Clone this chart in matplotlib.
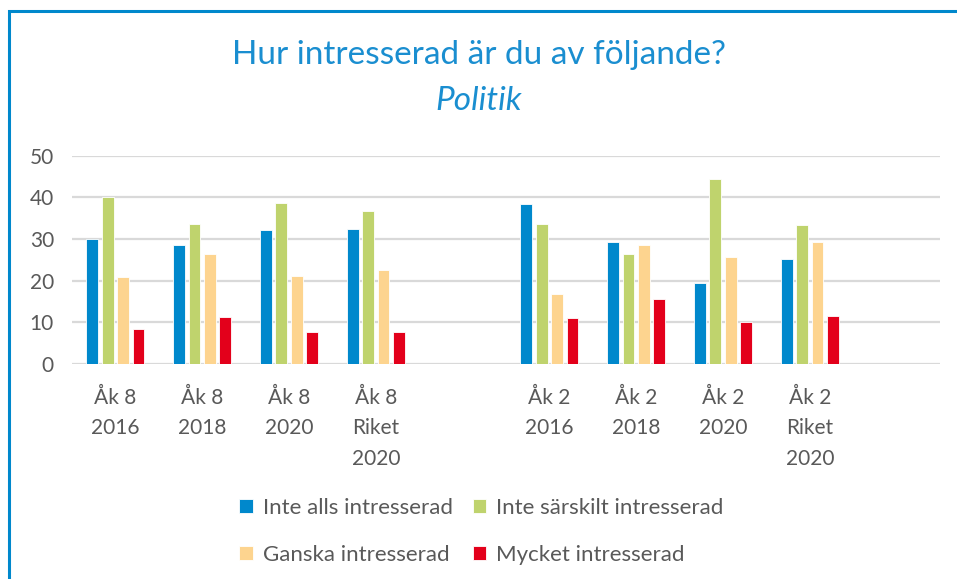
import matplotlib.pyplot as plt
import numpy as np
from matplotlib.patches import Rectangle

# chart data
categories = ["Åk 8\n2016", "Åk 8\n2018", "Åk 8\n2020", "Åk 8\nRiket\n2020", "",
              "Åk 2\n2016", "Åk 2\n2018", "Åk 2\n2020", "Åk 2\nRiket\n2020", ""]
series_names = ["Inte alls intresserad", "Inte särskilt intresserad",
                "Ganska intresserad", "Mycket intresserad"]
inte_alls = [30.0, 28.5, 32.2, 32.5, np.nan, 38.3, 29.4, 19.5, 25.1, np.nan]
inte_sarskilt = [40.1, 33.7, 38.6, 36.7, np.nan, 33.7, 26.3, 44.4, 33.4, np.nan]
ganska = [21.0, 26.3, 21.1, 22.6, np.nan, 16.7, 28.5, 25.7, 29.4, np.nan]
mycket = [8.5, 11.2, 7.8, 7.8, np.nan, 11.0, 15.5, 10.0, 11.5, np.nan]

colors = ["#0088CC", "#BFD36D", "#FDD48F", "#E3001B"]
text_gray = "#595959"
title_blue = "#1A8ED0"

plt.rcParams["font.family"] = ["Lato", "DejaVu Sans"]

fig = plt.figure(figsize=(9.57, 5.79), dpi=100)
ax = fig.add_axes([0.0752, 0.3713, 0.9070, 0.3598])

# outer blue frame
fig.patches.append(Rectangle((0.0094, -0.05), 1.1, 1.031, transform=fig.transFigure,
                             fill=False, edgecolor="#0088CC", linewidth=2.2))

x = np.arange(len(categories))
pitch = 0.177
width = 0.135
all_series = [inte_alls, inte_sarskilt, ganska, mycket]
handles = []
for i, vals in enumerate(all_series):
    h = ax.bar(x + (i - 1.5) * pitch, vals, width, color=colors[i],
               edgecolor="white", linewidth=0.6, label=series_names[i], zorder=3)
    handles.append(h)

ax.set_xlim(-0.5, len(categories) - 0.5)
ax.set_ylim(0, 50)
ax.set_yticks(range(0, 51, 10))
ax.grid(axis="y", color="#D9D9D9", linewidth=1.6, zorder=0)
ax.set_axisbelow(True)
for s in ax.spines.values():
    s.set_visible(False)

ax.set_xticks(x)
ax.set_xticklabels(categories, linespacing=1.65, va="top")
ax.tick_params(axis="both", length=0, labelsize=15, labelcolor=text_gray)
ax.tick_params(axis="y", pad=13)
ax.tick_params(axis="x", pad=17)

fig.text(0.5, 0.905, "Hur intresserad är du av följande?", ha="center", va="center",
         fontsize=24, color=title_blue)
fig.text(0.5, 0.826, "Politik", ha="center", va="center", fontsize=24,
         style="italic", color=title_blue)

leg = fig.legend(handles=[handles[0], handles[2], handles[1], handles[3]],
                 labels=[series_names[0], series_names[2], series_names[1], series_names[3]],
                 ncol=2, loc="center", bbox_to_anchor=(0.503, 0.082), frameon=False,
                 fontsize=16, handlelength=0.6, handleheight=0.6, handletextpad=0.45,
                 columnspacing=0.9, labelspacing=1.2)
for t in leg.get_texts():
    t.set_color(text_gray)

fig.savefig("out.png", dpi=100)
